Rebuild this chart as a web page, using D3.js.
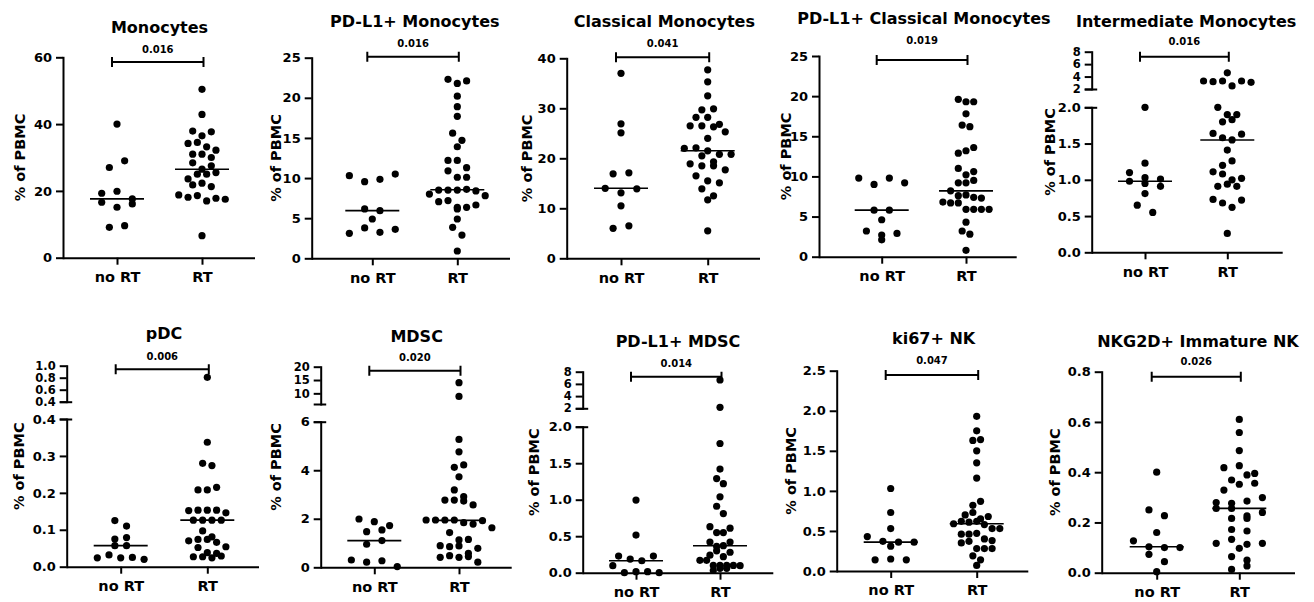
<!DOCTYPE html>
<html>
<head>
<meta charset="utf-8">
<script src="https://cdn.jsdelivr.net/npm/d3@7"></script>
<style>
  html, body { margin: 0; padding: 0; background: #fff; }
  svg { display: block; }
  text { font-family: "DejaVu Sans", sans-serif; font-weight: bold; fill: #000; }
</style>
</head>
<body>
<svg id="chart" width="1314" height="602"></svg>
<script>
// ---- categories and labels ----
const groups = ["no RT", "RT"];
const titles = ["Monocytes", "PD-L1+ Monocytes", "Classical Monocytes", "PD-L1+ Classical Monocytes",
  "Intermediate Monocytes", "pDC", "MDSC", "PD-L1+ MDSC", "ki67+ NK", "NKG2D+ Immature NK"];
const pLabels = ["0.016", "0.016", "0.041", "0.019", "0.016", "0.006", "0.020", "0.014", "0.047", "0.026"];
const yLabel = "% of PBMC";

// ---- per-patient values (% of PBMC) ----
const monoNoRT = [40.0, 27.0, 29.0, 19.3, 19.9, 16.6, 15.1, 16.1, 17.6, 9.1, 9.6];
const monoRT = [50.4, 42.9, 37.9, 36.5, 37.7, 34.2, 34.5, 33.2, 31.0, 31.0, 30.0, 32.2, 28.4, 23.6, 25.0,
  25.0, 26.5, 27.5, 25.5, 21.8, 22.3, 21.3, 18.8, 18.1, 18.6, 17.0, 17.8, 17.5, 6.6];

const pdl1MonoNoRT = [10.3, 9.55, 9.84, 10.5, 6.15, 5.94, 4.9, 3.11, 3.78, 3.24, 3.61];
const pdl1MonoRT = [22.3, 21.8, 22.1, 20.2, 18.9, 17.7, 15.6, 14.7, 13.9, 12.2, 12.2, 11.3, 10.9, 10.1, 10.1,
  8.0, 8.5, 8.5, 8.5, 8.6, 8.4, 7.06, 7.8, 7.2, 6.35, 6.35, 6.15, 6.64, 4.9, 3.86, 2.9, 0.91];

const classicalNoRT = [37.0, 26.9, 25.1, 16.9, 17.1, 14.0, 13.1, 13.9, 10.5, 6.0, 6.5];
const classicalRT = [37.7, 35.3, 32.5, 29.7, 29.9, 28.2, 28.2, 26.5, 26.5, 26.3, 26.8, 25.3, 24.0, 22.0, 22.1,
  21.5, 20.8, 20.5, 20.8, 18.9, 19.3, 18.5, 18.5, 17.7, 16.5, 15.5, 15.1, 13.9, 11.7, 12.5, 5.5];

const pdl1ClassicalNoRT = [9.8, 9.0, 9.8, 9.2, 5.8, 5.8, 4.6, 3.2, 2.1, 2.7, 2.9];
const pdl1ClassicalRT = [19.6, 19.3, 19.3, 17.8, 16.4, 16.2, 12.9, 13.2, 13.6, 11.0, 10.2, 10.6, 9.2, 9.2, 9.5,
  8.2, 7.6, 7.7, 7.4, 7.3, 6.8, 6.7, 6.7, 5.9, 5.9, 5.9, 5.9, 4.3, 3.2, 2.8, 0.8];

const intermediateNoRT = [2.0, 1.23, 1.10, 1.03, 1.01, 0.98, 0.95, 0.91, 0.81, 0.65, 0.55];
const intermediateRT = [3.29, 3.18, 3.29, 4.6, 2.5, 3.29, 3.07, 2.0, 1.90, 1.90, 1.80, 1.83, 1.64, 1.58, 1.55,
  1.63, 1.41, 1.20, 1.26, 1.11, 1.08, 1.0, 1.02, 0.91, 0.94, 0.91, 0.73, 0.68, 0.62, 0.72, 0.26];

const pdcNoRT = [0.125, 0.110, 0.075, 0.079, 0.057, 0.057, 0.024, 0.032, 0.024, 0.025, 0.020];
const pdcRT = [0.806, 0.337, 0.28, 0.274, 0.208, 0.208, 0.215, 0.152, 0.153, 0.153, 0.153, 0.146, 0.126, 0.126,
  0.126, 0.126, 0.097, 0.081, 0.070, 0.074, 0.074, 0.066, 0.054, 0.052, 0.027, 0.038, 0.027, 0.036, 0.024, 0.029];

const mdscNoRT = [1.99, 1.88, 1.72, 1.47, 1.54, 0.95, 1.10, 0.30, 0.21, 0.27, 0.03];
const mdscRT = [14.0, 8.85, 5.27, 4.76, 4.12, 4.22, 3.73, 3.19, 2.77, 2.77, 2.91, 2.73, 2.57, 1.95, 1.95, 1.95,
  1.95, 1.84, 1.78, 1.92, 1.43, 1.63, 1.13, 1.15, 0.89, 0.85, 0.88, 0.58, 0.78, 0.41, 0.48, 0.41, 0.44, 0.21];

const pdl1MdscNoRT = [0.995, 0.516, 0.228, 0.187, 0.164, 0.228, 0.096, 0.0, 0.014, 0.014, 0.0];
const pdl1MdscRT = [6.64, 2.16, 1.77, 1.42, 1.29, 1.22, 1.04, 0.91, 0.81, 0.63, 0.55, 0.55, 0.61, 0.42, 0.36,
  0.37, 0.42, 0.24, 0.30, 0.22, 0.28, 0.17, 0.17, 0.10, 0.10, 0.10, 0.10, 0.096, 0.03, 0.06, 0.06];

const ki67NoRT = [1.03, 0.73, 0.53, 0.43, 0.37, 0.36, 0.36, 0.31, 0.14, 0.15, 0.14];
const ki67RT = [1.93, 1.75, 1.63, 1.64, 1.50, 1.35, 1.16, 0.82, 0.87, 0.70, 0.73, 0.65, 0.68, 0.59, 0.62, 0.61,
  0.62, 0.58, 0.53, 0.53, 0.46, 0.46, 0.47, 0.40, 0.38, 0.35, 0.37, 0.28, 0.28, 0.28, 0.19, 0.07, 0.14];

const nkg2dNoRT = [0.40, 0.25, 0.227, 0.16, 0.127, 0.103, 0.10, 0.10, 0.073, 0.044, 0.004];
const nkg2dRT = [0.61, 0.558, 0.486, 0.418, 0.426, 0.369, 0.395, 0.389, 0.329, 0.352, 0.356, 0.279, 0.276,
  0.285, 0.299, 0.256, 0.256, 0.226, 0.24, 0.216, 0.216, 0.172, 0.166, 0.117, 0.133, 0.113, 0.117, 0.097,
  0.064, 0.05, 0.013, 0.027];

// ---- tick values ----
const monoTicks = [0, 20, 40, 60];
const pdl1MonoTicks = [0, 5, 10, 15, 20, 25];
const classicalTicks = [0, 10, 20, 30, 40];
const pdl1ClassicalTicks = [0, 5, 10, 15, 20, 25];
const intermediateTicks = [0, 0.5, 1.0, 1.5, 2.0];
const intermediateUpperTicks = [2, 4, 6, 8];
const pdcTicks = [0, 0.1, 0.2, 0.3, 0.4];
const pdcUpperTicks = [0.4, 0.6, 0.8, 1.0];
const mdscTicks = [0, 2, 4, 6];
const mdscUpperTicks = [10, 15, 20];
const pdl1MdscTicks = [0, 0.5, 1.0, 1.5, 2.0];
const pdl1MdscUpperTicks = [2, 4, 6, 8];
const ki67Ticks = [0, 0.5, 1.0, 1.5, 2.0, 2.5];
const nkg2dTicks = [0, 0.2, 0.4, 0.6, 0.8];

// ---- panel definitions (data + axis settings) ----
const panels = [
  { values: [monoNoRT, monoRT], ticks: monoTicks, fmt: "d" },
  { values: [pdl1MonoNoRT, pdl1MonoRT], ticks: pdl1MonoTicks, fmt: "d" },
  { values: [classicalNoRT, classicalRT], ticks: classicalTicks, fmt: "d" },
  { values: [pdl1ClassicalNoRT, pdl1ClassicalRT], ticks: pdl1ClassicalTicks, fmt: "d" },
  { values: [intermediateNoRT, intermediateRT], ticks: intermediateTicks, fmt: ".1f",
    upperTicks: intermediateUpperTicks, upperDomain: [2, 8], upperFmt: "d" },
  { values: [pdcNoRT, pdcRT], ticks: pdcTicks, fmt: ".1f",
    upperTicks: pdcUpperTicks, upperDomain: [0.4, 1.0], upperFmt: ".1f" },
  { values: [mdscNoRT, mdscRT], ticks: mdscTicks, fmt: "d",
    upperTicks: mdscUpperTicks, upperDomain: [6, 20], upperFmt: "d" },
  { values: [pdl1MdscNoRT, pdl1MdscRT], ticks: pdl1MdscTicks, fmt: ".1f",
    upperTicks: pdl1MdscUpperTicks, upperDomain: [2, 8], upperFmt: "d" },
  { values: [ki67NoRT, ki67RT], ticks: ki67Ticks, fmt: ".1f" },
  { values: [nkg2dNoRT, nkg2dRT], ticks: nkg2dTicks, fmt: ".1f" }
];

// ---- page layout of each panel (pixels) ----
const frames = [
  { ax: 63,     top: 57.3,  bot: 257.7, xEnd: 255,    cats: [117, 202],      titleY: 32.5,  pY: 52.6,  brY: 62,    labX: 20,    spread: [15.3, 9.3] },
  { ax: 311.7,  top: 57.7,  bot: 258.3, xEnd: 510,    cats: [372.3, 457.3],  titleY: 26.5,  pY: 47,    brY: 56.7,  labX: 275.7, spread: [15.3, 9.3] },
  { ax: 566.7,  top: 58.3,  bot: 258.3, xEnd: 760,    cats: [621, 707.7],    titleY: 26.5,  pY: 47,    brY: 57.3,  labX: 527.3, spread: [15.8, 11.7] },
  { ax: 819,    top: 56,    bot: 256.7, xEnd: 1016.7, cats: [881.7, 966],    titleY: 24,    pY: 43.6,  brY: 60,    labX: 785.7, spread: [15.3, 7.7] },
  { ax: 1091.7, top: 51.7,  upperBot: 89,    lowerTop: 107.3, bot: 252.3, xEnd: 1282.7, cats: [1145, 1227.3],  titleY: 26.5,  pY: 45.3,  brY: 56.7,  labX: 1050,  spread: [15.5, 9.5] },
  { ax: 66.7,   top: 365.7, upperBot: 401.7, lowerTop: 419,   bot: 566.7, xEnd: 259,    cats: [120.7, 207.3],  titleY: 339,   pY: 360.3, brY: 369.3, labX: 18.7,  spread: [11.7, 9.3] },
  { ax: 320.7,  top: 366.7, upperBot: 404,   lowerTop: 421.7, bot: 567.3, xEnd: 511.7,  cats: [374.3, 459],    titleY: 342,   pY: 361.3, brY: 370.7, labX: 275.7, spread: [15.3, 9.4] },
  { ax: 582.7,  top: 371.7, upperBot: 408.3, lowerTop: 426.7, bot: 572.7, xEnd: 773.3,  cats: [636, 720],      titleY: 346.5, pY: 367,   brY: 376.7, labX: 534,   spread: [11.6, 6.7] },
  { ax: 836.7,  top: 370.7, bot: 571,   xEnd: 1028.3, cats: [890.7, 976.7],  titleY: 344,   pY: 363.6, brY: 375,   labX: 790.7, spread: [15.6, 7.7] },
  { ax: 1101.7, top: 371.7, bot: 572.7, xEnd: 1295,   cats: [1156.7, 1239.3], titleY: 346.5, pY: 365.3, brY: 376.7, labX: 1055,  spread: [15.5, 15.4] }
];

const DOT_R = 3.6;
const ROW_TOL = 8;      // px: points closer than this share a row in the scatter
const MEDIAN_HALF = 27; // half-width of the median bar
const LINE_W = 2;

const svg = d3.select("#chart");

// Prism-style scatter: points with nearby y values are spread side by side.
function swarm(vals, y, cx, spacing) {
  const pts = vals.map((v, i) => ({ v, i, y: y(v) })).sort((a, b) => a.y - b.y);
  const rows = [];
  for (const p of pts) {
    const row = rows[rows.length - 1];
    if (row && p.y - row[0].y < ROW_TOL) row.push(p); else rows.push([p]);
  }
  rows.forEach(row => {
    row.sort((a, b) => a.i - b.i);
    row.forEach((p, k) => { p.x = cx + (k - (row.length - 1) / 2) * spacing; });
  });
  return pts;
}

function drawYAxis(g, scale, ticks, fmt, ax, fontSize) {
  const a = g.append("g")
    .attr("transform", `translate(${ax},0)`)
    .call(d3.axisLeft(scale).tickValues(ticks).tickFormat(d3.format(fmt))
      .tickSizeInner(7).tickSizeOuter(0).tickPadding(4));
  a.attr("font-family", null).attr("font-size", null);
  a.select(".domain").attr("stroke", "#000").attr("stroke-width", LINE_W).attr("stroke-linecap", "square");
  a.selectAll(".tick line").attr("stroke", "#000").attr("stroke-width", LINE_W);
  a.selectAll(".tick text").attr("font-size", fontSize).attr("fill", "#000");
  return a;
}

panels.forEach((p, idx) => {
  const f = frames[idx];
  const g = svg.append("g");
  const x = d3.scalePoint().domain(groups).range(f.cats);
  const midX = (f.cats[0] + f.cats[1]) / 2;

  let y;
  if (p.upperTicks) {
    const lowerMax = p.ticks[p.ticks.length - 1];
    const lo = d3.scaleLinear().domain([0, lowerMax]).range([f.bot, f.lowerTop]);
    const hi = d3.scaleLinear().domain(p.upperDomain).range([f.upperBot, f.top]);
    y = v => (v > lowerMax ? hi(v) : lo(v));
    drawYAxis(g, lo, p.ticks, p.fmt, f.ax, 13);
    drawYAxis(g, hi, p.upperTicks, p.upperFmt, f.ax, 11.5);
    // break marks at the two segment ends
    [hi(p.upperDomain[0]), lo(lowerMax)].forEach(yy => {
      g.append("line")
        .attr("x1", f.ax - 7).attr("x2", f.ax + 5.5)
        .attr("y1", yy + 0.5).attr("y2", yy + 0.5)
        .attr("stroke", "#000").attr("stroke-width", LINE_W);
    });
  } else {
    const lin = d3.scaleLinear().domain([0, p.ticks[p.ticks.length - 1]]).range([f.bot, f.top]);
    y = lin;
    drawYAxis(g, lin, p.ticks, p.fmt, f.ax, 13);
  }

  // x axis baseline and category ticks
  g.append("line")
    .attr("x1", f.ax).attr("x2", f.xEnd)
    .attr("y1", f.bot + 0.5).attr("y2", f.bot + 0.5)
    .attr("stroke", "#000").attr("stroke-width", LINE_W);
  const xa = g.append("g")
    .attr("transform", `translate(0,${f.bot})`)
    .call(d3.axisBottom(x).tickSizeInner(7).tickSizeOuter(0).tickPadding(7));
  xa.attr("font-family", null).attr("font-size", null);
  xa.select(".domain").remove();
  xa.selectAll(".tick line").attr("stroke", "#000").attr("stroke-width", LINE_W);
  xa.selectAll(".tick text").attr("font-size", 14.5).attr("fill", "#000");

  // axis title
  const midY = (f.top + f.bot) / 2;
  g.append("text")
    .attr("transform", `translate(${f.labX},${midY}) rotate(-90)`)
    .attr("text-anchor", "middle")
    .attr("dominant-baseline", "central")
    .attr("font-size", 14.5)
    .text(yLabel);

  // panel title
  g.append("text")
    .attr("x", midX).attr("y", f.titleY)
    .attr("text-anchor", "middle")
    .attr("font-size", 16)
    .text(titles[idx]);

  // significance bracket
  const bx0 = x(groups[0]) - 5, bx1 = x(groups[1]) + 1.5;
  g.append("path")
    .attr("d", `M${bx0},${f.brY - 5}V${f.brY + 5}M${bx0},${f.brY}H${bx1}M${bx1},${f.brY - 5}V${f.brY + 5}`)
    .attr("fill", "none").attr("stroke", "#000").attr("stroke-width", LINE_W);
  g.append("text")
    .attr("x", (bx0 + bx1) / 2).attr("y", f.pY)
    .attr("text-anchor", "middle")
    .attr("font-size", 10)
    .text(pLabels[idx]);

  // points and medians
  groups.forEach((grp, gi) => {
    const vals = p.values[gi];
    const cx = x(grp);
    const pts = swarm(vals, y, cx, f.spread[gi]);
    g.append("g").selectAll("circle")
      .data(pts)
      .join("circle")
      .attr("cx", d => d.x)
      .attr("cy", d => d.y)
      .attr("r", DOT_R)
      .attr("fill", "#000");
    const med = d3.median(vals);
    g.append("line")
      .attr("x1", cx - MEDIAN_HALF).attr("x2", cx + MEDIAN_HALF)
      .attr("y1", y(med)).attr("y2", y(med))
      .attr("stroke", "#000").attr("stroke-width", 1.6);
  });
});
</script>
</body>
</html>
